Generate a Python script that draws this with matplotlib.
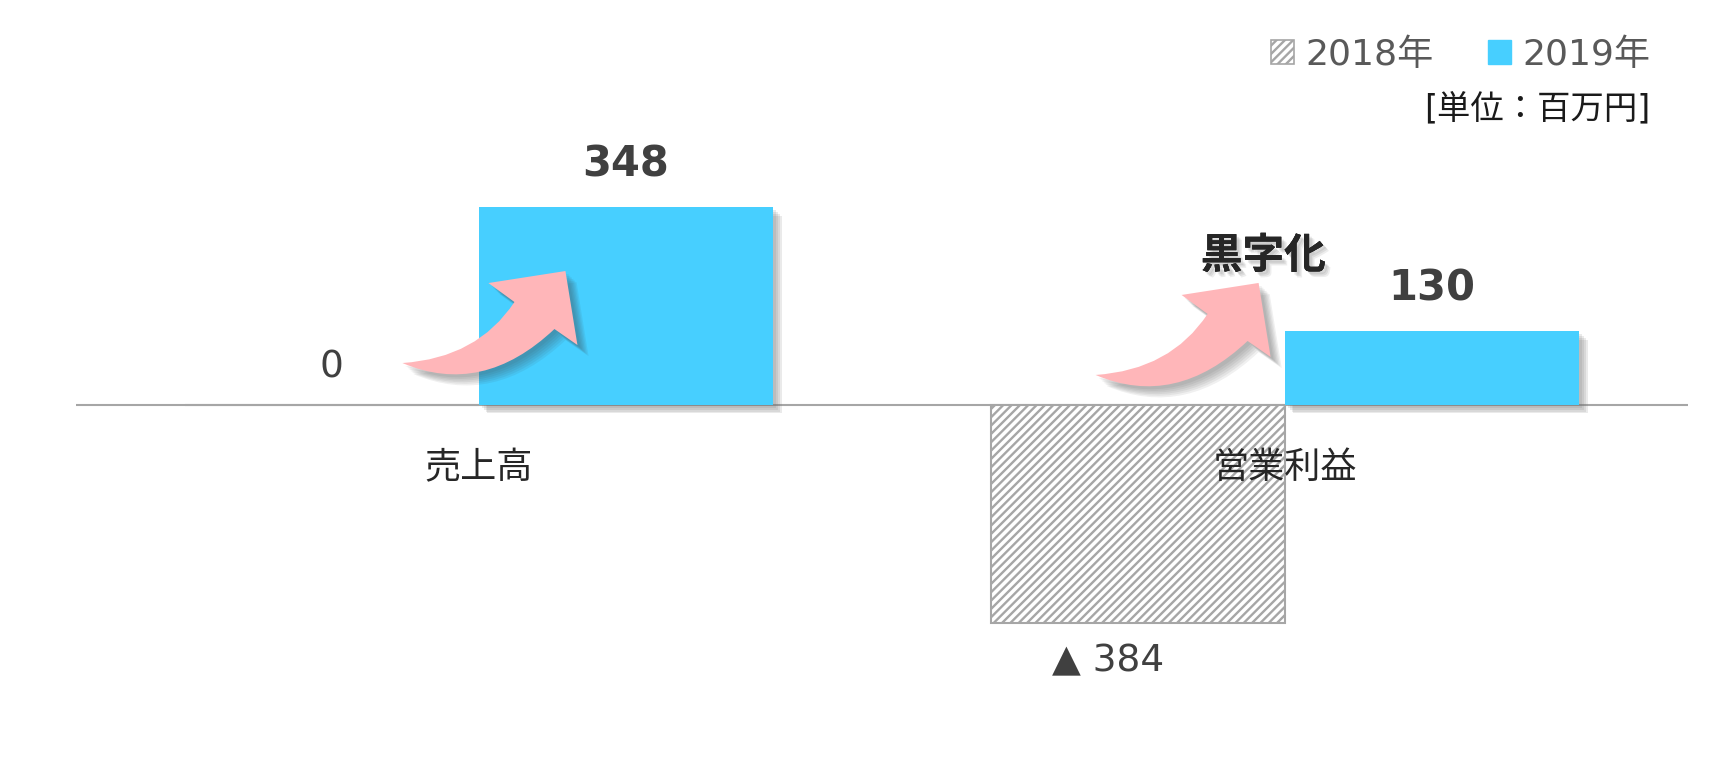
import matplotlib
matplotlib.use("Agg")
import matplotlib.pyplot as plt
from matplotlib.patches import Patch, PathPatch
from matplotlib.path import Path
import matplotlib.patheffects as pe
import matplotlib.transforms as mtransforms

FONTS = ['DejaVu Sans', 'Noto Sans CJK JP']
plt.rcParams['font.family'] = FONTS
plt.rcParams['hatch.color'] = '#9c9c9c'
plt.rcParams['hatch.linewidth'] = 1.7

# ---- data ----
categories = ['売上高', '営業利益']
series_names = ['2018年', '2019年']
values_2018 = [0, -384]
values_2019 = [348, 130]
labels_2018 = ['0', '▲ 384']
labels_2019 = ['348', '130']
unit_text = '[単位：百万円]'
callout_text = '黒字化'

BLUE = '#47CFFF'
GRAY = '#A6A6A6'
TXT = '#404040'

W, H, DPI = 1713, 759, 100
fig = plt.figure(figsize=(W / DPI, H / DPI), dpi=DPI)
ax = fig.add_axes([76 / W, 0, (1688 - 76) / W, 1])
ax.set_xlim(-0.5, 1.5)
ax.set_ylim(-623, 713)
ax.axis('off')


def soft_shadow(dx, dy, color, alpha, n=4):
    effs = []
    for k in range(n, 0, -1):
        effs.append(pe.SimplePatchShadow(offset=(dx * k / n + 1, dy * k / n - 1),
                                         shadow_rgbFace=color, alpha=alpha))
    effs.append(pe.Normal())
    return effs


bw = 0.365
xs = list(range(len(categories)))
x18 = [x - bw / 2 for x in xs]
x19 = [x + bw / 2 for x in xs]

ax.axhline(0, color=GRAY, lw=1.5, zorder=1)

b18 = ax.bar(x18, values_2018, width=bw, facecolor='white', edgecolor=GRAY,
             hatch='////', lw=1.5, zorder=2)
b19 = ax.bar(x19, values_2019, width=bw, color=BLUE, zorder=3)
for p in b19:
    p.set_path_effects(soft_shadow(5, -5, '#707070', 0.14))

# value labels
px = 72 / DPI  # points per pixel
for x, v, lab in zip(x18, values_2018, labels_2018):
    if v >= 0:
        off = (0, 38)
    else:
        off = (-30, -38)
    ax.annotate(lab, (x, v), xytext=(off[0] * px, off[1] * px), textcoords='offset points',
                ha='center', va='center', fontsize=27, color=TXT, zorder=6)
for x, v, lab in zip(x19, values_2019, labels_2019):
    ax.annotate(lab, (x, v), xytext=(0, 43 * px), textcoords='offset points',
                ha='center', va='center', fontsize=30, fontweight='bold', color=TXT, zorder=6)

# category labels
for x, c in zip(xs, categories):
    ax.annotate(c, (x, 0), xytext=(0, -63 * px), textcoords='offset points',
                ha='center', va='center', fontsize=26, color='#262626', zorder=6)


# curved arrows (shape in pixels relative to tail, y down)
def arrow_patch(anchor):
    verts = [(0, 0), (75, -5), (112, -61), (86, -80), (163, -92), (175, -18),
             (152, -34), (80, 34), (0, 0), (0, 0)]
    codes = [Path.MOVETO, Path.CURVE3, Path.CURVE3, Path.LINETO, Path.LINETO,
             Path.LINETO, Path.LINETO, Path.CURVE3, Path.CURVE3, Path.CLOSEPOLY]
    tr = (mtransforms.Affine2D().scale(1 / DPI, -1 / DPI) + fig.dpi_scale_trans
          + mtransforms.ScaledTranslation(anchor[0], anchor[1], ax.transData))
    p = PathPatch(Path(verts, codes), facecolor='#FFB6B9', edgecolor='none',
                  transform=tr, zorder=5)
    p.set_path_effects(soft_shadow(7, -7, '#404040', 0.08, n=6))
    ax.add_patch(p)


arrow_anchors = [(-0.095, 74), (0.765, 53)]
for a in arrow_anchors:
    arrow_patch(a)

ax.text(0.973, 262, callout_text, ha='center', va='center', fontsize=30,
        fontweight='bold', color='#262626', zorder=6,
        path_effects=[pe.withSimplePatchShadow(offset=(4, -4), shadow_rgbFace='#777777', alpha=0.12),
                      pe.withSimplePatchShadow(offset=(3, -3), shadow_rgbFace='#777777', alpha=0.15),
                      pe.withSimplePatchShadow(offset=(2, -2), shadow_rgbFace='#777777', alpha=0.15)])

# legend
handles = [Patch(facecolor='white', edgecolor=GRAY, hatch='////', lw=1.2),
           Patch(facecolor=BLUE, edgecolor=BLUE)]
leg = fig.legend(handles, series_names, loc='upper right', ncol=2, frameon=False,
                 bbox_to_anchor=(1650 / W, 1 - 38 / H), fontsize=26,
                 handlelength=0.65, handleheight=0.65, handletextpad=0.3,
                 columnspacing=1.5, borderpad=0, borderaxespad=0)
for t in leg.get_texts():
    t.set_color('#595959')

fig.text(1650 / W, 1 - 109 / H, unit_text, ha='right', va='center', fontsize=24, color='#1a1a1a')

fig.savefig('out.png', dpi=DPI)
